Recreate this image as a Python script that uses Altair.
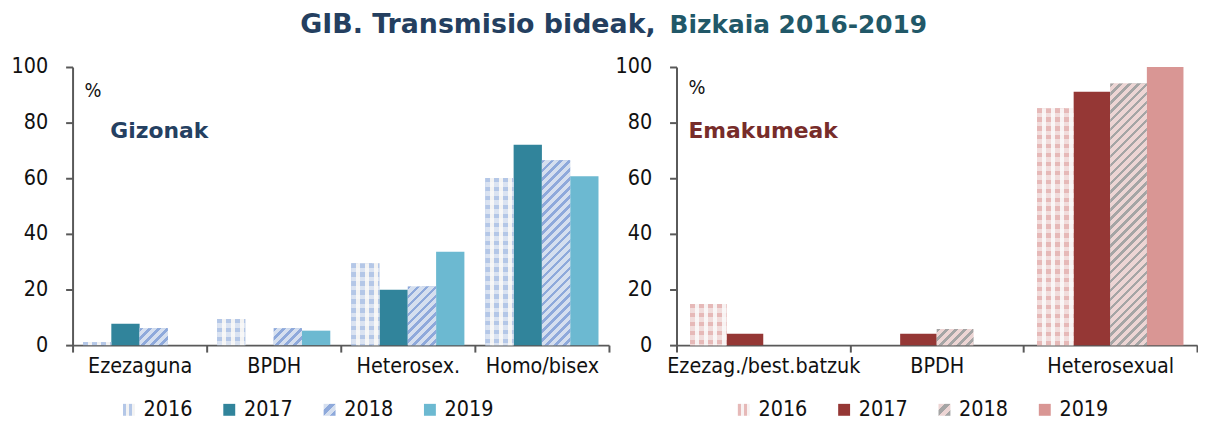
import altair as alt
import pandas as pd

# ---------------- data ----------------
years = ["2016", "2017", "2018", "2019"]

men_cats = ["Ezezaguna", "BPDH", "Heterosex.", "Homo/bisex"]
men_2016 = [1.1, 9.4, 29.4, 60.1]
men_2017 = [7.7, 0.0, 19.9, 72.0]
men_2018 = [6.1, 6.1, 21.1, 66.5]
men_2019 = [0.0, 5.2, 33.6, 60.7]

women_cats = ["Ezezag./best.batzuk", "BPDH", "Heterosexual"]
women_2016 = [14.8, 0.0, 85.2]
women_2017 = [4.1, 4.1, 91.1]
women_2018 = [0.0, 5.8, 94.1]
women_2019 = [0.0, 0.0, 100.0]

# ---------------- style ----------------
FONT = "DejaVu Sans Condensed, Liberation Sans Narrow, Roboto, sans-serif"
BOLD = "DejaVu Sans, Liberation Sans, sans-serif"
H = 280
W1, W2 = 540, 524
PO = 0.37
AXIS_COL = "#595959"
FS = 21.5


def bar_width(W, ncat):
    return W / ncat / (4 + 2 * PO)


def stops(a, b, frac, n):
    parts = []
    for i in range(n):
        t0, tm, t1 = i / n, (i + frac) / n, (i + 1) / n
        parts += [
            f"{{offset:{t0:.5f},color:'{a}'}}",
            f"{{offset:{tm:.5f},color:'{a}'}}",
            f"{{offset:{tm:.5f},color:'{b}'}}",
            f"{{offset:{t1:.5f},color:'{b}'}}",
        ]
    return "[" + ",".join(parts) + "]"


def diag_expr(w, a, b, frac=0.4, P=9.0, n=48):
    h = f"(datum.value*{H / 100:.4f})"
    den = f"({w * w:.4f}+{h}*{h})"
    return (f"{{gradient:'linear',x1:0,y1:0,x2:{P * n * w:.4f}/{den},"
            f"y2:{P * n:.4f}*{h}/{den},stops:{stops(a, b, frac, n)}}}")


def vert_expr(w, a, b, frac=0.55, P=9.0, n=8):
    return (f"{{gradient:'linear',x1:0,y1:0,x2:{P * n / w:.4f},y2:0,"
            f"stops:{stops(a, b, frac, n)}}}")


def horiz_expr(a, b, frac=0.5, P=9.0, n=40):
    h = f"(datum.value*{H / 100:.4f})"
    return (f"{{gradient:'linear',x1:0,y1:0,x2:0,y2:{P * n:.4f}/{h},"
            f"stops:{stops(a, b, frac, n)}}}")


def legend_diag(a, b):
    return {"expr": f"{{gradient:'linear',x1:0,y1:0,x2:1,y2:1,stops:{stops(b, a, 0.5, 2)}}}"}


def legend_check(a, b):
    return {"expr": f"{{gradient:'linear',x1:0,y1:0,x2:1,y2:0,stops:{stops(a, b, 0.5, 2)}}}"}


dummy = pd.DataFrame({"a": [0]})


def panel(cats, series, W, pal, label, label_color, label_x, pct_y, legend_x, extra=()):
    rows = []
    for yr, arr in zip(years, series):
        for c, v in zip(cats, arr):
            rows.append({"cat": c, "year": yr, "value": v})
    df = pd.DataFrame(rows)
    w = bar_width(W, len(cats))

    enc = dict(
        x=alt.X("cat:N", sort=cats, title=None,
                scale=alt.Scale(domain=cats, paddingInner=0, paddingOuter=0),
                axis=alt.Axis(labelAngle=0, labelFont=FONT, labelFontSize=FS, labelColor="#111111",
                              labelPadding=4, labelLimit=0, tickBand="extent", tickSize=7,
                              tickWidth=2, tickColor=AXIS_COL, domainColor=AXIS_COL, domainWidth=2)),
        xOffset=alt.XOffset("year:N", sort=years,
                            scale=alt.Scale(domain=years, paddingInner=0, paddingOuter=PO)),
        y=alt.Y("value:Q", stack=None, title=None,
                scale=alt.Scale(domain=[0, 100], nice=False),
                axis=alt.Axis(values=[0, 20, 40, 60, 80, 100], grid=False, labelFont=FONT,
                              labelFontSize=FS, labelColor="#111111", labelPadding=18,
                              tickSize=7, tickWidth=2, tickColor=AXIS_COL,
                              domainColor=AXIS_COL, domainWidth=2)),
    )

    base = alt.Chart(df).mark_bar(strokeWidth=0).encode(
        **enc,
        color=alt.Color("year:N", sort=years,
                        scale=alt.Scale(domain=years, range=[
                            legend_check(pal["c16"], pal["w16"]), pal["c17"],
                            legend_diag(pal["s18"], pal["b18"]), pal["c19"]]),
                        legend=alt.Legend(title=None, orient="none", legendX=legend_x, legendY=334,
                                          direction="horizontal", symbolType="square",
                                          symbolSize=144, symbolStrokeWidth=0, labelFont=FONT,
                                          labelFontSize=FS, labelColor="#111111", labelLimit=0,
                                          columnPadding=26, labelOffset=4)),
    )

    l16a = alt.Chart(df).transform_filter("datum.year=='2016' && datum.value>0").transform_calculate(
        g=vert_expr(w, pal["c16"], pal["w16"])
    ).mark_bar(strokeWidth=0).encode(**enc, fill=alt.Fill("g:N", scale=None, legend=None))

    l16b = alt.Chart(df).transform_filter("datum.year=='2016' && datum.value>0").transform_calculate(
        g=horiz_expr("rgba(255,255,255,0)", "rgba(250,250,250,0.55)")
    ).mark_bar(strokeWidth=0).encode(**enc, fill=alt.Fill("g:N", scale=None, legend=None))

    l18 = alt.Chart(df).transform_filter("datum.year=='2018' && datum.value>0").transform_calculate(
        g=diag_expr(w, pal["s18"], pal["b18"])
    ).mark_bar(strokeWidth=0).encode(**enc, fill=alt.Fill("g:N", scale=None, legend=None))

    pct = alt.Chart(dummy).mark_text(text="%", font=FONT, fontSize=20, align="left",
                                     baseline="middle", color="#111111").encode(
        x=alt.value(12), y=alt.value(pct_y))
    lab = alt.Chart(dummy).mark_text(text=label, font=BOLD, fontSize=22, fontWeight="bold",
                                     align="left", baseline="middle", color=label_color).encode(
        x=alt.value(label_x), y=alt.value(64))

    return alt.layer(base, l16a, l16b, l18, pct, lab, *extra).properties(width=W, height=H)


men_pal = dict(c16="#B4C7E7", w16="#F3F3F3", c17="#31849B", b18="#D5DFEF", s18="#8EA9DB",
               c19="#6CB9D1")
women_pal = dict(c16="#E6B9B8", w16="#F8F2F2", c17="#953735", b18="#EDD5D4", s18="#A5A5A5",
                 c19="#D99694")

title1 = alt.Chart(dummy).mark_text(text="GIB. Transmisio bideak,", font=BOLD, fontSize=27,
                                    fontWeight="bold", align="right", baseline="alphabetic",
                                    color="#243F60").encode(x=alt.value(587), y=alt.value(-34))
title2 = alt.Chart(dummy).mark_text(text="Bizkaia 2016-2019", font=BOLD, fontSize=25,
                                    fontWeight="bold", align="left", baseline="alphabetic",
                                    color="#215868").encode(x=alt.value(601), y=alt.value(-34))

left = panel(men_cats, [men_2016, men_2017, men_2018, men_2019], W1, men_pal,
             "Gizonak", "#254061", 38, 24, 46, extra=(title1, title2))
right = panel(women_cats, [women_2016, women_2017, women_2018, women_2019], W2, women_pal,
              "Emakumeak", "#772C2A", 12, 21, 57)

chart = alt.hconcat(left, right, spacing=68).resolve_scale(
    color="independent", x="independent", y="independent", xOffset="independent"
).properties(
    bounds="flush", padding={"left": 3, "top": 2, "right": 0, "bottom": 0}
).configure_view(stroke=None)

chart.save("out.html", embed_options={"renderer": "svg", "actions": False})
